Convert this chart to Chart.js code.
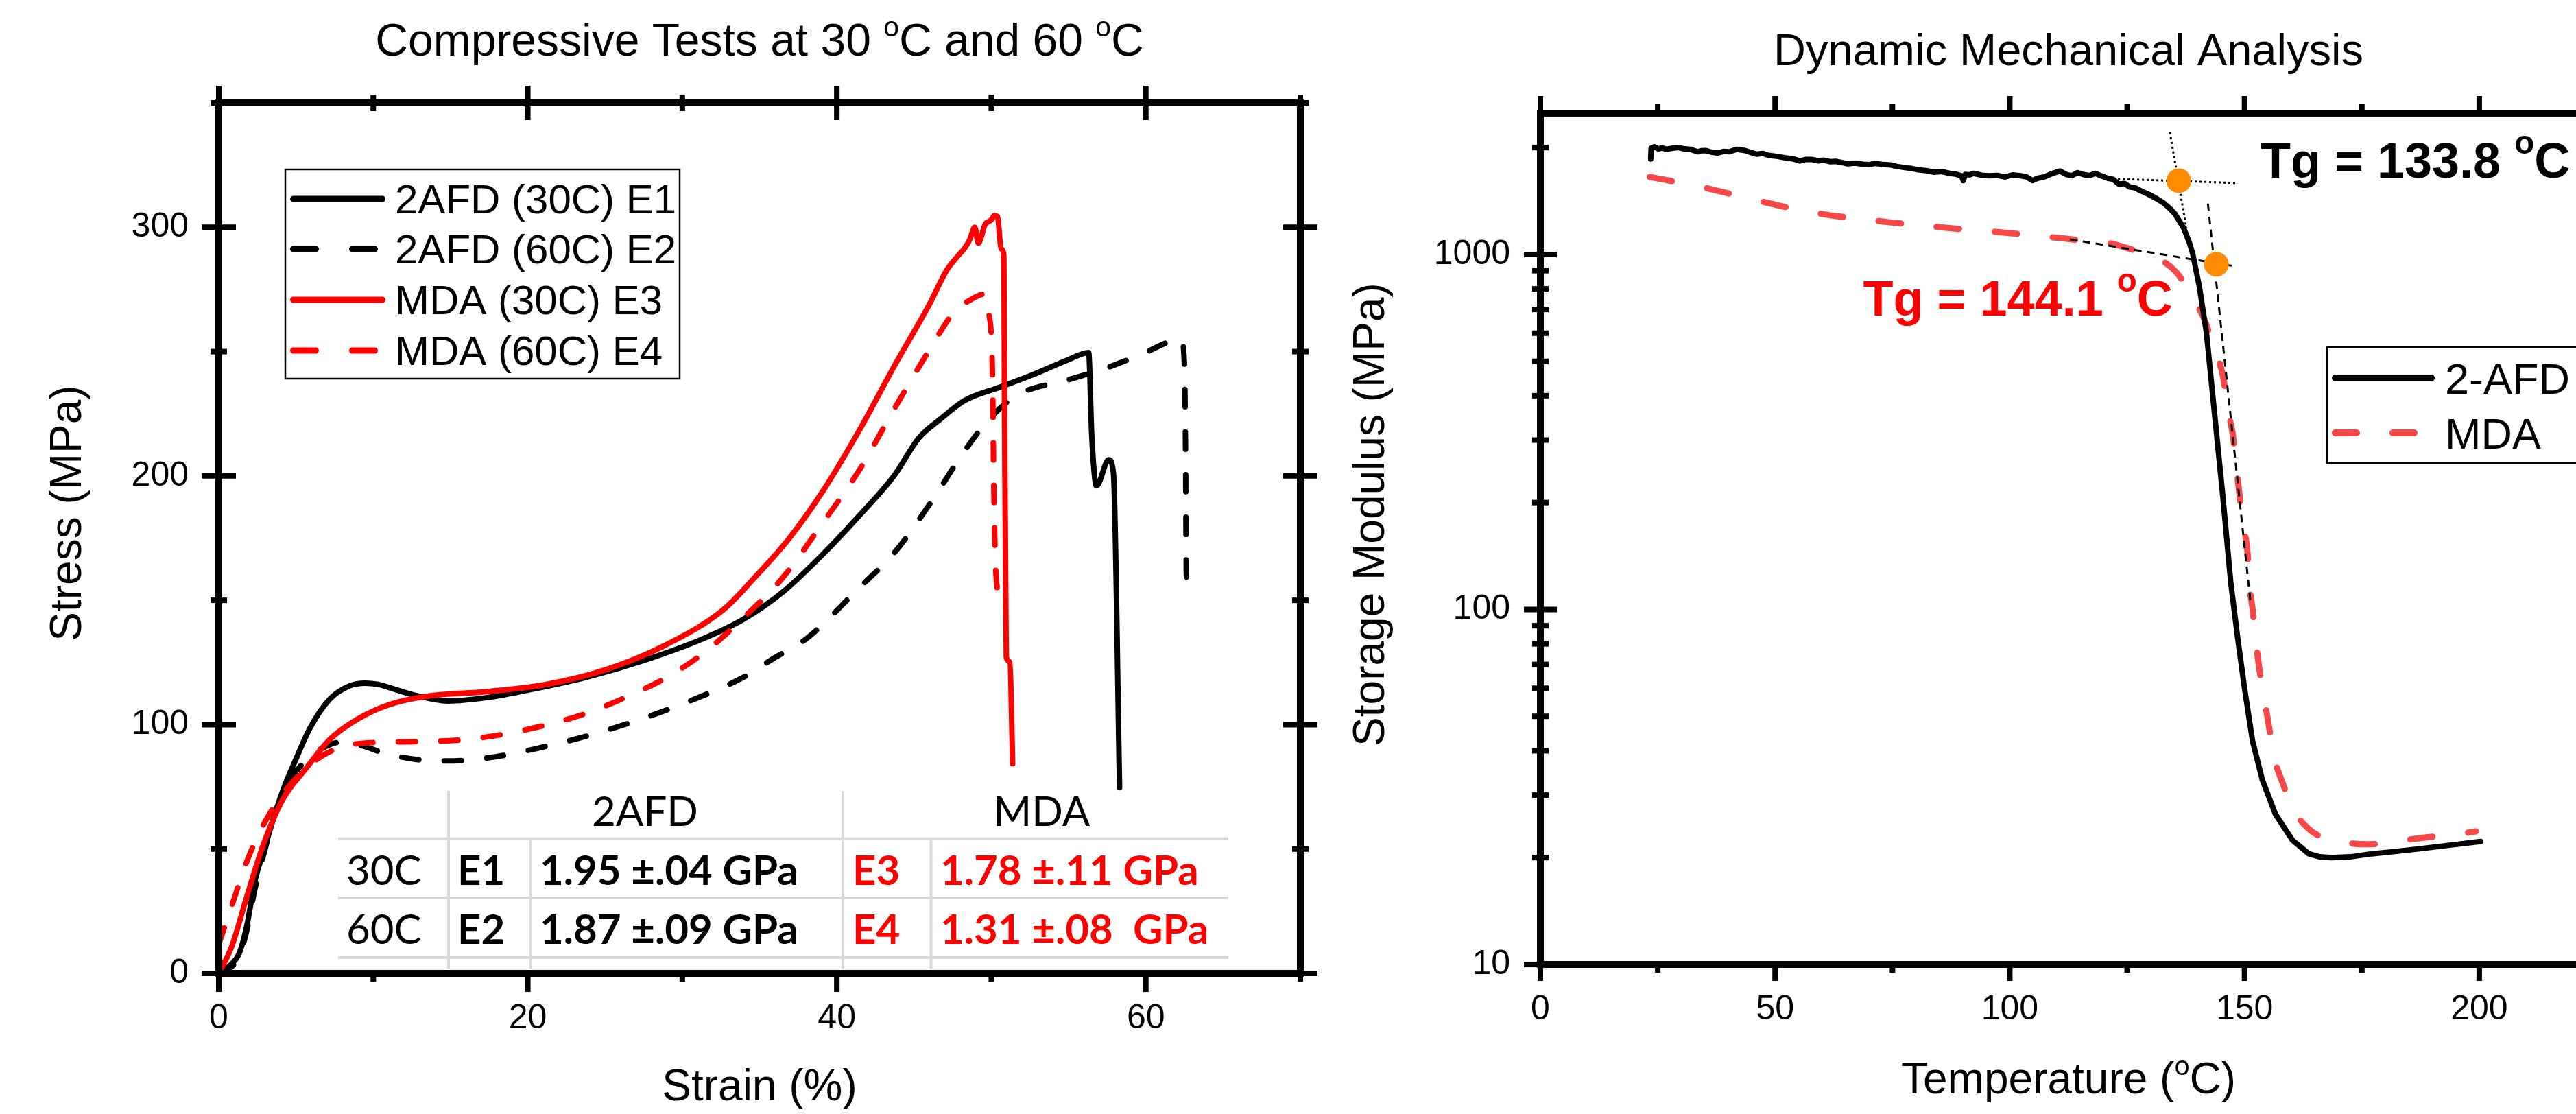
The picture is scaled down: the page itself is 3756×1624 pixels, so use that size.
<!DOCTYPE html>
<html>
<head>
<meta charset="utf-8">
<title>Compressive Tests and Dynamic Mechanical Analysis</title>
<script src="https://cdn.jsdelivr.net/npm/chart.js@4.4.1/dist/chart.umd.min.js"></script>
<style>
  html, body { margin:0; padding:0; width:3756px; height:1624px; overflow:hidden; background:#ffffff; }
  #wrap { position:relative; width:3756px; height:1624px; overflow:hidden; background:#ffffff; }
  #compressive { position:absolute; left:0; top:0; }
  #dma { position:absolute; left:1940px; top:0; }
</style>
</head>
<body>
<div id="wrap">
  <canvas id="compressive" width="1940" height="1624"></canvas>
  <canvas id="dma" width="1900" height="1624"></canvas>
</div>
<script>
const SANS = "'Liberation Sans', Arial, Helvetica, sans-serif";
const TABLE_FONT = "Lato, 'Open Sans', sans-serif";

// ================= Compressive tests: [strain %, stress MPa] =================
const leftSeriesNames = ['2AFD (30C) E1', '2AFD (60C) E2', 'MDA (30C) E3', 'MDA (60C) E4'];
const afd30 = [[0,0],[0.8,3.6],[1.33,8.2],[1.84,19.9],[2.34,37.2],[3.0,51],[3.62,63.9],[4.3,76],[4.9,84.8],[5.91,98.7],[7.19,110.3],[8.46,115.6],[9.48,116.7],[10.3,116.2],[11.0,115.0],[12.54,112.1],[14.83,109.5],[17.38,110.9],[19.93,113.8],[23.75,119.0],[27.6,126.0],[31.4,134.7],[33.94,142.3],[36.5,153.3],[39.19,169.1],[41.46,184.1],[43.72,200.2],[45.3,215.2],[46.67,222.7],[48.26,230.3],[50.5,235.6],[52.8,241.0],[55.0,246.8],[56.3,249.6],[56.5,216.3],[56.8,196.0],[57.6,206.5],[57.9,201.3],[58.3,74.7]];
const afd60 = [[0,0],[0.8,2.5],[1.33,7],[1.84,18],[2.34,34],[3.0,50],[3.62,64],[4.64,77.9],[5.91,87.1],[7.0,91.5],[7.95,93.0],[9.48,91.2],[10.5,88.9],[12.8,86.0],[14.83,85.4],[17.9,87.1],[20.7,90.6],[23.75,95.3],[27.6,102.8],[30.6,109.8],[33.94,119.0],[36.0,127],[38.06,134.7],[41.46,155.1],[43.72,169.1],[45.98,188.4],[48.25,209.9],[49.84,222.7],[51.65,232.4],[55.04,238.8],[57.3,243.1],[59.57,248.5],[62.3,254.9],[62.5,244.2],[62.57,209.9],[62.62,160.5],[62.85,149.7]];
const mda30 = [[0,0],[0.82,10.5],[1.84,31.4],[2.85,51.2],[4.13,69.8],[5.66,82.5],[7.19,94.1],[8.97,102.2],[11.0,108.0],[13.56,111.5],[17.38,113.3],[21.2,116.2],[25.0,122.0],[28.85,131.8],[32.67,146.3],[34.66,159],[36.93,175],[39.19,194.8],[41.46,218.4],[43.72,244.2],[45.98,268.9],[47.12,282.8],[47.8,288.2],[48.25,291.4],[48.6,295],[48.93,300.0],[49.16,293.6],[49.6,301.1],[50.0,303],[50.2,304.7],[50.4,304.3],[50.63,291.4],[50.8,289.3],[50.82,282.8],[50.86,220.6],[50.93,156.2],[50.97,127.2],[51.2,125.1],[51.38,84.3]];
const mda60 = [[0,11.7],[0.82,26.8],[1.84,45.4],[2.85,59.3],[4.13,72.1],[5.66,82.5],[6.93,88.3],[8.46,91.8],[10.5,92.9],[13.05,93.2],[16.1,94.1],[18.65,96.4],[21.2,99.9],[23.75,104.5],[26.3,110.9],[28.85,118.5],[31.4,128.9],[33.94,142.9],[36.5,159.1],[39.19,182.0],[41.46,202.4],[43.72,227.0],[45.98,250.6],[47.57,265.7],[48.7,271.0],[49.6,273.2],[49.84,265.7],[50.07,242.1],[50.18,188.4],[50.3,160.5],[50.63,149.8]];
const strainTicks = [0, 20, 40, 60];
const strainMinorTicks = [10, 30, 50, 70];
const stressTicks = [0, 100, 200, 300];
const stressMinorTicks = [50, 150, 250, 350];

// ================= Modulus table =================
const tableHeaders = ['2AFD', 'MDA'];
const tableRowLabels = ['30C', '60C'];
const tableKeysAfd = ['E1', 'E2'];
const tableValuesAfd = ['1.95 \u00b1.04 GPa', '1.87 \u00b1.09 GPa'];
const tableKeysMda = ['E3', 'E4'];
const tableValuesMda = ['1.78 \u00b1.11 GPa', '1.31 \u00b1.08  GPa'];

// ================= DMA: [temperature C, storage modulus MPa] =================
const rightSeriesNames = ['2-AFD', 'MDA'];
const dmaAfd = [[23.5,1857],[23.6,1993],[24.3,2010],[25.1,1984],[26.0,1995],[26.8,1978],[28.0,1990],[29.3,2002],[30.5,1985],[31.9,1978],[33.5,1946],[34.3,1960],[35.2,1962],[36.5,1940],[37.7,1931],[39.0,1950],[40.2,1946],[41.9,1978],[42.8,1968],[43.6,1962],[45.0,1935],[46.1,1916],[47.4,1925],[48.6,1901],[50.3,1890],[52.0,1873],[53.7,1860],[55.3,1834],[56.6,1852],[57.9,1851],[59.2,1835],[60.4,1843],[61.7,1825],[62.9,1829],[64.2,1815],[65.4,1800],[67.1,1808],[68.8,1795],[70.0,1790],[71.3,1806],[73.0,1792],[74.6,1787],[75.9,1770],[77.2,1760],[78.9,1748],[80.5,1731],[82.2,1722],[83.9,1705],[85.5,1712],[87.2,1692],[88.5,1684],[89.7,1666],[90.1,1615],[90.5,1680],[91.4,1676],[92.3,1692],[94.0,1672],[95.6,1666],[97.3,1670],[99.0,1653],[100.6,1675],[102.3,1666],[103.5,1655],[104.8,1615],[106.0,1640],[107.3,1653],[109.0,1690],[110.7,1718],[112.0,1680],[113.2,1666],[114.4,1700],[115.7,1679],[117.0,1668],[118.2,1692],[119.5,1665],[120.8,1640],[122.0,1628],[123.3,1577],[124.4,1585],[125.5,1550],[126.7,1540],[127.8,1513],[129.5,1478],[131.3,1436],[132.8,1395],[134.1,1347],[135.2,1300],[136.2,1237],[137.0,1190],[137.6,1136],[138.3,1075],[139.0,1000],[140.4,809],[141.9,600],[143.3,392],[145.4,207],[147.1,118],[148.5,84],[150.0,60],[151.7,42.7],[153.8,33.1],[156.6,26.5],[160.2,22.4],[163.7,20.5],[166.0,20.1],[168.6,20.0],[172.5,20.1],[177.1,20.5],[182.0,20.8],[187.6,21.2],[194.0,21.7],[200.3,22.2]];
const dmaMda = [[23.3,1653],[29,1600],[35.2,1540],[41.5,1470],[47.8,1403],[54,1345],[60.4,1298],[66.7,1265],[73.0,1238],[79,1214],[85.5,1192],[92,1172],[98.1,1154],[104.4,1134],[110.5,1113],[116,1093],[121.1,1077],[127.1,1022],[131.3,979],[135.5,890],[138.7,767],[141.5,653],[143.6,540],[145.4,455],[146.4,368],[147.5,311],[148.2,256],[148.9,212],[149.6,175],[150.65,144],[151.0,119],[151.7,100.6],[152.4,82],[153.1,68.9],[154.2,56.3],[155.2,46.9],[156.3,38.5],[158.1,32.5],[160.5,27.2],[164,23.9],[167.5,22.6],[170.7,22.1],[176.4,21.8],[183,22.3],[188.7,22.8],[195.4,23.3],[199.3,23.7]];
const tangentAfdFlat = [[121.0,1636],[148.1,1589]];
const tangentAfdSteep = [[134.1,2206],[137.6,1189]];
const tangentMdaFlat = [[112.8,1103],[147.8,927]];
const tangentMdaSteep = [[142.2,1390],[151.3,104]];
const tgPoints = [[136.0,1613],[144.0,938]];
const tgLabels = ['Tg = 133.8 ^oC', 'Tg = 144.1 ^oC'];
const tgLabelAnchors = [[153.4,1648],[68.75,673]];
const tempTicks = [0, 50, 100, 150, 200];
const tempMinorTicks = [25, 75, 125, 175, 225];
const modulusTicks = [10, 100, 1000];
const modulusMinorTicks = [20,30,40,50,60,70,80,90,200,300,400,500,600,700,800,900,2000];

// ================= helpers =================
const xy = arr => arr.map(p => ({x: p[0], y: p[1]}));

function richText(ctx, text, x, y, o) {
  const size = o.size, weight = o.weight || 'normal', fam = o.family || SANS;
  const supSize = size * (o.supScale || 0.62);
  const rise = size * (o.supRise || 0.42);
  const segs = [];
  let buf = '';
  for (let i = 0; i < text.length; i++) {
    if (text[i] === '^' && i + 1 < text.length) {
      if (buf) segs.push({t: buf, sup: false});
      buf = '';
      segs.push({t: text[i + 1], sup: true});
      i++;
    } else buf += text[i];
  }
  if (buf) segs.push({t: buf, sup: false});
  let total = 0;
  segs.forEach(s => { ctx.font = `${weight} ${s.sup ? supSize : size}px ${fam}`; s.w = ctx.measureText(s.t).width; total += s.w; });
  let cx = o.align === 'center' ? x - total / 2 : (o.align === 'right' ? x - total : x);
  const by = o.middle ? y + size * 0.358 : y;
  ctx.fillStyle = o.color || '#000';
  ctx.textAlign = 'left';
  ctx.textBaseline = 'alphabetic';
  segs.forEach(s => {
    ctx.font = `${weight} ${s.sup ? supSize : size}px ${fam}`;
    ctx.fillText(s.t, cx, s.sup ? by - rise : by);
    cx += s.w;
  });
}

function framePlugin(cfg) {
  return {
    id: 'frame',
    afterDatasetsDraw(chart) {
      const {ctx, chartArea: a} = chart;
      const sx = chart.scales.x, sy = chart.scales.y;
      const T = cfg.ticks;
      ctx.save();
      ctx.strokeStyle = '#000';
      ctx.lineCap = 'butt';
      ctx.lineWidth = cfg.tickWidth;
      const seg = (x0, y0, x1, y1) => { ctx.beginPath(); ctx.moveTo(x0, y0); ctx.lineTo(x1, y1); ctx.stroke(); };
      [['major', cfg.xMajor], ['minor', cfg.xMinor]].forEach(([k, vals]) => vals.forEach(v => {
        const p = sx.getPixelForValue(v);
        seg(p, a.bottom - T.bottom[k][0], p, a.bottom + T.bottom[k][1]);
        seg(p, a.top + T.top[k][0], p, a.top - T.top[k][1]);
      }));
      [['major', cfg.yMajor], ['minor', cfg.yMinor]].forEach(([k, vals]) => vals.forEach(v => {
        const p = sy.getPixelForValue(v);
        seg(a.left + T.left[k][0], p, a.left - T.left[k][1], p);
        seg(a.right - T.right[k][0], p, a.right + T.right[k][1], p);
      }));
      ctx.lineWidth = cfg.axisWidth;
      ctx.lineJoin = 'miter';
      ctx.strokeRect(a.left, a.top, a.right - a.left, a.bottom - a.top);
      ctx.restore();
    }
  };
}

function titlesPlugin(cfg) {
  return {
    id: 'titles',
    afterDraw(chart) {
      const {ctx, chartArea: a} = chart;
      const cx = (a.left + a.right) / 2;
      ctx.save();
      richText(ctx, cfg.title, cx, a.top - cfg.titleGap, {size: cfg.titleSize, align: 'center'});
      richText(ctx, cfg.xTitle, cx, a.bottom + cfg.xGap, {size: cfg.axisSize, align: 'center'});
      ctx.translate(a.left - cfg.yGap, a.top + cfg.yOffset);
      ctx.rotate(-Math.PI / 2);
      richText(ctx, cfg.yTitle, 0, 0, {size: cfg.axisSize, align: 'center', middle: true});
      ctx.restore();
    }
  };
}

function legendPlugin(cfg) {
  return {
    id: 'boxLegend',
    afterDatasetsDraw(chart) {
      const {ctx, chartArea: a} = chart;
      const bx = a.left + cfg.dx, by = a.top + cfg.dy;
      ctx.save();
      ctx.fillStyle = '#fff';
      ctx.fillRect(bx, by, cfg.w, cfg.h);
      ctx.lineWidth = cfg.borderWidth;
      ctx.strokeStyle = '#000';
      ctx.strokeRect(bx, by, cfg.w, cfg.h);
      cfg.items.forEach((di, i) => {
        const ds = chart.data.datasets[di];
        const yy = by + cfg.rows[i];
        ctx.strokeStyle = ds.borderColor;
        ctx.lineWidth = cfg.lineWidth;
        ctx.lineCap = 'round';
        ctx.setLineDash(ds.borderDash && ds.borderDash.length ? cfg.dash : []);
        ctx.beginPath();
        ctx.moveTo(bx + cfg.x0 + cfg.lineWidth / 2, yy);
        ctx.lineTo(bx + cfg.x1 - cfg.lineWidth / 2, yy);
        ctx.stroke();
        ctx.setLineDash([]);
        richText(ctx, ds.label, bx + cfg.textX, yy, {size: cfg.fontSize, middle: true});
      });
      ctx.restore();
    }
  };
}

function tablePlugin(cfg) {
  return {
    id: 'modTable',
    afterDatasetsDraw(chart) {
      const {ctx, chartArea: a} = chart;
      const L = a.left, B = a.bottom, X = cfg.x, Y = cfg.y;
      ctx.save();
      ctx.fillStyle = '#fff';
      ctx.fillRect(L + X.left, B + Y.top, X.right - X.left, Y.end - Y.top);
      ctx.strokeStyle = cfg.lineColor;
      ctx.lineWidth = cfg.lineWidth;
      const seg = (x0, y0, x1, y1) => { ctx.beginPath(); ctx.moveTo(x0, y0); ctx.lineTo(x1, y1); ctx.stroke(); };
      [Y.h1, Y.h2, Y.h3].forEach(h => seg(L + X.left, B + h, L + X.right, B + h));
      [X.v1, X.v3].forEach(v => seg(L + v, B + Y.top, L + v, B + Y.end));
      [X.v2, X.v4].forEach(v => seg(L + v, B + Y.h1, L + v, B + Y.end));
      const txt = (t, x, y, bold, color, align) => {
        ctx.font = `${bold ? 'bold ' : ''}${cfg.fontSize}px ${TABLE_FONT}`;
        ctx.fillStyle = color;
        ctx.textAlign = align;
        ctx.textBaseline = 'alphabetic';
        ctx.fillText(t, L + x, B + y + cfg.fontSize * 0.36);
      };
      txt(tableHeaders[0], cfg.headX[0], cfg.headY, false, '#000', 'center');
      txt(tableHeaders[1], cfg.headX[1], cfg.headY, false, '#000', 'center');
      tableRowLabels.forEach((r, i) => {
        const yy = cfg.rowY[i];
        txt(r, cfg.colX[0], yy, false, '#000', 'left');
        txt(tableKeysAfd[i], cfg.colX[1], yy, true, '#000', 'left');
        txt(tableValuesAfd[i], cfg.colX[2], yy, true, '#000', 'left');
        txt(tableKeysMda[i], cfg.colX[3], yy, true, '#ff0000', 'left');
        txt(tableValuesMda[i], cfg.colX[4], yy, true, '#ff0000', 'left');
      });
      ctx.restore();
    }
  };
}

function tgLabelPlugin(cfg) {
  return {
    id: 'tgLabels',
    afterDatasetsDraw(chart) {
      const ctx = chart.ctx, sx = chart.scales.x, sy = chart.scales.y;
      ctx.save();
      tgLabels.forEach((t, i) => {
        richText(ctx, t, sx.getPixelForValue(tgLabelAnchors[i][0]), sy.getPixelForValue(tgLabelAnchors[i][1]),
          {size: cfg.size, weight: 'bold', color: cfg.colors[i], supScale: 0.66, supRise: 0.48});
      });
      ctx.restore();
    }
  };
}

const tickFont = {family: SANS, size: 50};

// ================= Left chart =================
const leftChart = new Chart(document.getElementById('compressive'), {
  type: 'line',
  data: {
    datasets: [
      {label: leftSeriesNames[0], data: xy(afd30), borderColor: '#000000', borderDash: [], order: 4},
      {label: leftSeriesNames[1], data: xy(afd60), borderColor: '#000000', borderDash: [25, 37], order: 3},
      {label: leftSeriesNames[2], data: xy(mda30), borderColor: '#ff0000', borderDash: [], order: 2},
      {label: leftSeriesNames[3], data: xy(mda60), borderColor: '#ff0000', borderDash: [25, 37], order: 1}
    ]
  },
  options: {
    responsive: false, animation: false, devicePixelRatio: 1, events: [],
    layout: {padding: {left: 0, top: 150, right: 44, bottom: 0}, autoPadding: false},
    elements: {
      point: {radius: 0},
      line: {borderWidth: 8, borderCapStyle: 'round', borderJoinStyle: 'round', cubicInterpolationMode: 'monotone', fill: false}
    },
    plugins: {legend: {display: false}, tooltip: {enabled: false}, title: {display: false}},
    scales: {
      x: {
        type: 'linear', min: 0, max: 70,
        grid: {display: false, drawTicks: false}, border: {display: false},
        ticks: {font: tickFont, color: '#000', padding: 36, maxRotation: 0, autoSkip: false, callback: v => String(v)},
        afterBuildTicks: s => { s.ticks = strainTicks.map(v => ({value: v})); },
        afterFit: s => { s.height = 205; }
      },
      y: {
        type: 'linear', min: 0, max: 350,
        grid: {display: false, drawTicks: false}, border: {display: false},
        ticks: {font: tickFont, color: '#000', padding: 44, autoSkip: false, callback: v => String(v)},
        afterBuildTicks: s => { s.ticks = stressTicks.map(v => ({value: v})); },
        afterFit: s => { s.width = 319; }
      }
    }
  },
  plugins: [
    tablePlugin({
      x: {left: 174, v1: 335, v2: 455, v3: 910, v4: 1038.5, right: 1472},
      y: {top: -266, h1: -196.3, h2: -110, h3: -23.3, end: -6},
      lineColor: '#d9d9d9', lineWidth: 4, fontSize: 60,
      headX: [621.5, 1200], headY: -237,
      rowY: [-151, -65], colX: [186, 348, 468, 924, 1052]
    }),
    legendPlugin({dx: 97, dy: 97, w: 575, h: 305, borderWidth: 2.5, rows: [43, 116, 190, 264],
      items: [0, 1, 2, 3], x0: 7, x1: 146, textX: 160, lineWidth: 9, dash: [33, 53], fontSize: 60}),
    framePlugin({
      xMajor: strainTicks, xMinor: strainMinorTicks, yMajor: stressTicks, yMinor: stressMinorTicks,
      tickWidth: 8, axisWidth: 10,
      ticks: {
        bottom: {major: [0, 27], minor: [0, 12]},
        top: {major: [25, 25], minor: [12, 12]},
        left: {major: [25, 25], minor: [12, 12]},
        right: {major: [25, 25], minor: [12, 12]}
      }
    }),
    titlesPlugin({title: 'Compressive Tests at 30 ^oC and 60 ^oC', titleSize: 66, titleGap: 69,
      xTitle: 'Strain (%)', xGap: 185, yTitle: 'Stress (MPa)', yGap: 224, yOffset: 598, axisSize: 64})
  ]
});

// ================= Right chart =================
const rightChart = new Chart(document.getElementById('dma'), {
  type: 'line',
  data: {
    datasets: [
      {label: rightSeriesNames[0], data: xy(dmaAfd), borderColor: '#000000', borderWidth: 8, borderDash: [], tension: 0, cubicInterpolationMode: 'default', order: 2},
      {label: rightSeriesNames[1], data: xy(dmaMda), borderColor: '#f64848', borderWidth: 9, borderDash: [33, 52], order: 3},
      {label: '', data: xy(tangentAfdFlat), borderColor: '#000000', borderWidth: 3, borderDash: [3, 4], borderCapStyle: 'butt', tension: 0, order: 1},
      {label: '', data: xy(tangentAfdSteep), borderColor: '#000000', borderWidth: 3, borderDash: [3, 4], borderCapStyle: 'butt', tension: 0, order: 1},
      {label: '', data: xy(tangentMdaFlat), borderColor: '#000000', borderWidth: 3, borderDash: [11, 8], borderCapStyle: 'butt', tension: 0, order: 1},
      {label: '', data: xy(tangentMdaSteep), borderColor: '#000000', borderWidth: 3, borderDash: [11, 8], borderCapStyle: 'butt', tension: 0, order: 1},
      {label: '', data: xy(tgPoints), showLine: false, pointRadius: 18, pointBackgroundColor: '#ff8c00', pointBorderWidth: 0, order: 0}
    ]
  },
  options: {
    responsive: false, animation: false, devicePixelRatio: 1, events: [],
    layout: {padding: {left: 0, top: 165, right: 54, bottom: 0}, autoPadding: false},
    elements: {
      point: {radius: 0},
      line: {borderWidth: 8, borderCapStyle: 'round', borderJoinStyle: 'round', cubicInterpolationMode: 'monotone', fill: false}
    },
    plugins: {legend: {display: false}, tooltip: {enabled: false}, title: {display: false}},
    scales: {
      x: {
        type: 'linear', min: 0, max: 225,
        grid: {display: false, drawTicks: false}, border: {display: false},
        ticks: {font: tickFont, color: '#000', padding: 36, maxRotation: 0, autoSkip: false, callback: v => String(v)},
        afterBuildTicks: s => { s.ticks = tempTicks.map(v => ({value: v})); },
        afterFit: s => { s.height = 218; }
      },
      y: {
        type: 'logarithmic', min: 10, max: 2500,
        grid: {display: false, drawTicks: false}, border: {display: false},
        ticks: {font: tickFont, color: '#000', padding: 44, autoSkip: false, callback: v => String(v)},
        afterBuildTicks: s => { s.ticks = modulusTicks.map(v => ({value: v})); },
        afterFit: s => { s.width = 306; }
      }
    }
  },
  plugins: [
    tgLabelPlugin({size: 72, colors: ['#000000', '#ff0000']}),
    legendPlugin({dx: 1147, dy: 341, w: 380, h: 169, borderWidth: 2.5, rows: [45, 125],
      items: [0, 1], x0: 7, x1: 157, textX: 172, lineWidth: 10, dash: [31, 53], fontSize: 63}),
    framePlugin({
      xMajor: tempTicks, xMinor: tempMinorTicks, yMajor: modulusTicks, yMinor: modulusMinorTicks,
      tickWidth: 8, axisWidth: 10,
      ticks: {
        bottom: {major: [0, 24], minor: [0, 12]},
        top: {major: [0, 25], minor: [0, 13]},
        left: {major: [24, 24], minor: [12, 12]},
        right: {major: [24, 24], minor: [12, 12]}
      }
    }),
    titlesPlugin({title: 'Dynamic Mechanical Analysis', titleSize: 65, titleGap: 70,
      xTitle: 'Temperature (^oC)', xGap: 188, yTitle: 'Storage Modulus (MPa)', yGap: 251, yOffset: 585, axisSize: 64})
  ]
});

if (document.fonts && document.fonts.ready) {
  document.fonts.ready.then(() => { leftChart.draw(); rightChart.draw(); });
}
</script>
</body>
</html>
